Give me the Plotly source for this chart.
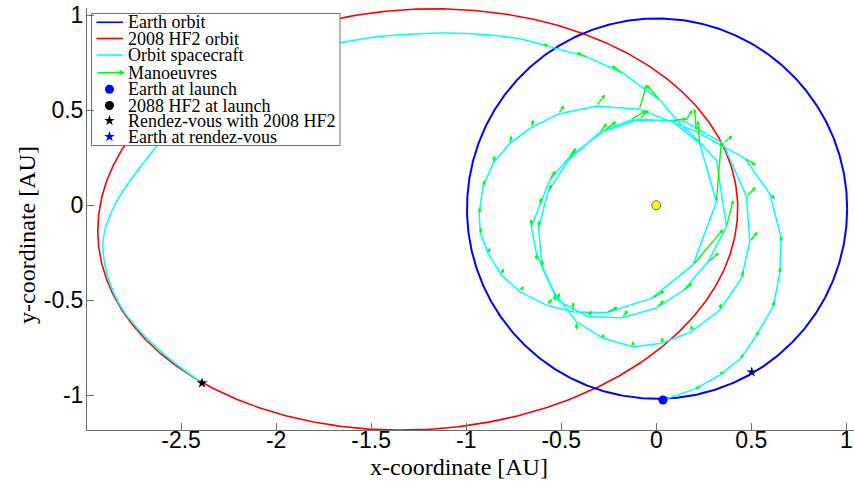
import numpy as np
import plotly.graph_objects as go

# ---- orbit definitions (AU) ----
EARTH_CENTER = (0.004, -0.018)
EARTH_RADIUS = 1.0

# 2008 HF2 orbit projected on the ecliptic: centre, semi-axes, tilt
HF2_CENTER = (-1.255, -0.075)
HF2_SEMI_AXES = (1.685, 1.105)
HF2_TILT_DEG = 3.5

# ---- spacecraft trajectory: thrust phase (polyline nodes) ----
sc_x = [0.035, 0.211, 0.333, 0.447, 0.527, 0.614, 0.650, 0.656, 0.597, 0.465,
        0.211, -0.090, -0.315, -0.515, -0.657, -0.771, -0.859, -0.912, -0.932, -0.926,
        -0.885, -0.815, -0.718, -0.578, -0.438, -0.263, -0.026, 0.193, 0.316, 0.228,
        0.080, -0.135, -0.271, -0.456, -0.561, -0.614, -0.658, -0.631, -0.535, -0.420,
        -0.279, -0.121, 0.028, 0.185, 0.334, 0.448, 0.492, 0.474, 0.351, 0.150,
        -0.090, -0.300, -0.460, -0.570, -0.620, -0.600, -0.520, -0.360, -0.180, 0.000,
        0.140, 0.270, 0.369, 0.316, 0.218, 0.123, 0.018, -0.175, -0.368, -0.561]
sc_y = [-1.024, -0.963, -0.893, -0.802, -0.683, -0.534, -0.358, -0.170, 0.060, 0.246,
        0.387, 0.505, 0.522, 0.480, 0.409, 0.325, 0.220, 0.097, -0.043, -0.148,
        -0.253, -0.367, -0.455, -0.525, -0.560, -0.565, -0.490, -0.314, 0.018, 0.325,
        0.445, 0.448, 0.395, 0.255, 0.132, 0.000, -0.113, -0.253, -0.463, -0.613,
        -0.700, -0.744, -0.726, -0.665, -0.551, -0.384, -0.191, 0.046, 0.326, 0.440,
        0.452, 0.380, 0.240, 0.070, -0.120, -0.330, -0.500, -0.585, -0.592, -0.540,
        -0.450, -0.300, -0.113, 0.237, 0.342, 0.431, 0.553, 0.694, 0.781, 0.834]

# ---- spacecraft trajectory: coast arc to the rendez-vous ----
coast_x = [-0.561, -0.750, -1.000, -1.250, -1.500, -1.750, -2.000, -2.250, -2.500,
           -2.700, -2.850, -2.910, -2.885, -2.800, -2.660, -2.520, -2.390]
coast_y = [0.834, 0.880, 0.903, 0.902, 0.882, 0.835, 0.760, 0.630, 0.450,
           0.220, 0.000, -0.183, -0.380, -0.560, -0.720, -0.840, -0.935]

# ---- manoeuvres: application point and thrust vector (AU) ----
man_x = [0.211, 0.333, 0.447, 0.527, 0.614, 0.650, 0.656, 0.597, 0.465, 0.211,
         -0.090, -0.315, -0.515, -0.657, -0.771, -0.859, -0.912, -0.932, -0.926, -0.885,
         -0.815, -0.718, -0.578, -0.438, -0.263, -0.026, 0.193, 0.316, 0.228,
         0.080, -0.135, -0.271, -0.456, -0.561, -0.614, -0.658, -0.631, -0.535, -0.420,
         -0.279, -0.121, 0.028, 0.185, 0.334, 0.448, 0.492, 0.474,
         0.351, 0.150, -0.090, -0.300, -0.460, -0.570, -0.620, -0.600, -0.520, -0.360,
         -0.180, 0.000, 0.140, 0.270, 0.369,
         0.018, -0.175, -0.368, -0.561]
man_y = [-0.963, -0.893, -0.802, -0.683, -0.534, -0.358, -0.170, 0.060, 0.246, 0.387,
         0.505, 0.522, 0.480, 0.409, 0.325, 0.220, 0.097, -0.043, -0.148, -0.253,
         -0.367, -0.455, -0.525, -0.560, -0.565, -0.490, -0.314, 0.018, 0.325,
         0.445, 0.448, 0.395, 0.255, 0.132, 0.000, -0.113, -0.253, -0.463, -0.613,
         -0.700, -0.744, -0.726, -0.665, -0.551, -0.384, -0.191, 0.046,
         0.326, 0.440, 0.452, 0.380, 0.240, 0.070, -0.120, -0.330, -0.500, -0.585,
         -0.592, -0.540, -0.450, -0.300, -0.113,
         0.553, 0.694, 0.781, 0.834]
man_u = [0.020, 0.020, 0.010, 0.010, 0.005, 0.000, 0.005, 0.027, 0.060, -0.010,
         0.040, 0.045, 0.030, 0.010, 0.010, 0.010, 0.010, 0.005, 0.005, 0.010,
         0.010, 0.020, 0.030, 0.000, 0.060, 0.070, 0.158, 0.026, -0.010,
         0.080, 0.080, 0.060, 0.035, 0.030, 0.010, 0.000, 0.000, 0.000, 0.000,
         0.000, -0.005, 0.005, 0.000, 0.005, 0.010, 0.040, 0.050,
         0.050, 0.040, 0.050, 0.040, 0.030, 0.020, 0.005, 0.000, 0.010, 0.020,
         0.030, 0.040, 0.050, 0.060, 0.035,
         -0.070, -0.060, -0.052, -0.035]
man_v = [0.010, 0.020, 0.020, 0.020, 0.030, 0.030, -0.020, -0.027, -0.035, 0.120,
         0.130, 0.060, 0.045, 0.040, 0.040, 0.040, 0.035, 0.030, 0.030, 0.030,
         0.035, 0.030, 0.030, 0.050, 0.030, 0.040, 0.187, 0.316, 0.120,
         0.010, 0.050, 0.045, 0.047, 0.050, 0.040, 0.040, -0.035, -0.040, -0.040,
         0.025, 0.030, 0.030, 0.035, 0.035, 0.040, 0.050, 0.050,
         0.040, 0.060, 0.050, 0.050, 0.050, 0.040, 0.040, 0.040, 0.040, 0.030,
         0.040, 0.040, 0.040, 0.050, 0.140,
         0.080, 0.040, 0.022, 0.014]

# ---- single events ----
earth_launch = (0.035, -1.024)
hf2_rendezvous = (-2.39, -0.935)
earth_rendezvous = (0.502, -0.878)
sun = (0.0, 0.0)

legend_labels = ["Earth orbit", "2008 HF2 orbit", "Orbit spacecraft", "Manoeuvres",
                 "Earth at launch", "2088 HF2 at launch", "Rendez-vous with 2008 HF2",
                 "Earth at rendez-vous"]

x_ticks = [-2.5, -2, -1.5, -1, -0.5, 0, 0.5, 1]
y_ticks = [-1, -0.5, 0, 0.5, 1]

BLUE, RED, CYAN, GREEN = "#0000ff", "#ff0000", "#00ffff", "#00ff00"
SERIF = "Liberation Serif"
SANS = "Liberation Sans"

# ---- figure geometry (px) ----
W, H = 854, 487
ML, MR, MT, MB = 87, 0, 8, 57
X_RANGE = [-2.995, 1.040]
Y_RANGE = [-1.182, 1.037]


def paper_x(px):
    return (px - ML) / (W - ML - MR)


def paper_y(py):
    return 1 - (py - MT) / (H - MT - MB)


s = np.linspace(0, 2 * np.pi, 721)
earth_x = EARTH_CENTER[0] + EARTH_RADIUS * np.cos(s)
earth_y = EARTH_CENTER[1] + EARTH_RADIUS * np.sin(s)
tilt = np.radians(HF2_TILT_DEG)
a, b = HF2_SEMI_AXES
hf2_x = HF2_CENTER[0] + a * np.cos(s) * np.cos(tilt) - b * np.sin(s) * np.sin(tilt)
hf2_y = HF2_CENTER[1] + a * np.cos(s) * np.sin(tilt) + b * np.sin(s) * np.cos(tilt)

fig = go.Figure()
fig.add_trace(go.Scatter(x=hf2_x, y=hf2_y, mode="lines", line=dict(color=RED, width=1.6),
                         showlegend=False, hoverinfo="skip"))
fig.add_trace(go.Scatter(x=earth_x, y=earth_y, mode="lines", line=dict(color=BLUE, width=2),
                         showlegend=False, hoverinfo="skip"))
fig.add_trace(go.Scatter(x=sc_x, y=sc_y, mode="lines", line=dict(color=CYAN, width=1.5),
                         showlegend=False, hoverinfo="skip"))
fig.add_trace(go.Scatter(x=coast_x, y=coast_y, mode="lines",
                         line=dict(color=CYAN, width=1.5, shape="spline", smoothing=1.0),
                         showlegend=False, hoverinfo="skip"))

annotations = []
for x0, y0, u, v in zip(man_x, man_y, man_u, man_v):
    annotations.append(dict(x=x0 + u, y=y0 + v, ax=x0, ay=y0, xref="x", yref="y",
                            axref="x", ayref="y", showarrow=True, arrowhead=2,
                            arrowsize=0.55, arrowwidth=1.4, arrowcolor=GREEN,
                            standoff=0, startstandoff=0, text=""))

fig.add_trace(go.Scatter(x=[earth_launch[0]], y=[earth_launch[1]], mode="markers",
                         marker=dict(color=BLUE, size=9), showlegend=False))
fig.add_trace(go.Scatter(x=[hf2_rendezvous[0]], y=[hf2_rendezvous[1]], mode="markers",
                         marker=dict(color="black", size=8, symbol="star"), showlegend=False))
fig.add_trace(go.Scatter(x=[earth_rendezvous[0]], y=[earth_rendezvous[1]], mode="markers",
                         marker=dict(color="#000080", size=8, symbol="star"), showlegend=False))
fig.add_trace(go.Scatter(x=[sun[0]], y=[sun[1]], mode="markers",
                         marker=dict(color="#ffff00", size=9, line=dict(color="#666666", width=1)),
                         showlegend=False))

# ---- legend drawn on an overlay axis measured in pixels ----
LEG_BOX = (91.5, 340, 13.5, 145.5)
leg_rows = [22.3, 38.5, 55.0, 72.7, 89.3, 105.5, 120.7, 136.7]
LINE_X0, LINE_X1, MARK_X, TEXT_X = 96.5, 123.0, 109.5, 125.5

fig.add_trace(go.Scatter(x=[LEG_BOX[0], LEG_BOX[1], LEG_BOX[1], LEG_BOX[0], LEG_BOX[0]],
                         y=[LEG_BOX[2], LEG_BOX[2], LEG_BOX[3], LEG_BOX[3], LEG_BOX[2]],
                         xaxis="x2", yaxis="y2", mode="lines", fill="toself",
                         fillcolor="white", line=dict(color="#707070", width=1),
                         showlegend=False, hoverinfo="skip"))
for row, col in zip(leg_rows[:3], [BLUE, RED, CYAN]):
    fig.add_trace(go.Scatter(x=[LINE_X0, LINE_X1], y=[row, row], xaxis="x2", yaxis="y2",
                             mode="lines", line=dict(color=col, width=1.6),
                             showlegend=False, hoverinfo="skip"))
annotations.append(dict(x=LINE_X1 + 2, y=leg_rows[3], ax=LINE_X0, ay=leg_rows[3],
                        xref="x2", yref="y2", axref="x2", ayref="y2", showarrow=True,
                        arrowhead=2, arrowsize=0.7, arrowwidth=1.5, arrowcolor=GREEN,
                        standoff=0, startstandoff=0, text=""))
leg_marks = [(BLUE, "circle", 9), ("black", "circle", 9), ("black", "star", 8), (BLUE, "star", 8)]
for row, (col, sym, size) in zip(leg_rows[4:], leg_marks):
    fig.add_trace(go.Scatter(x=[MARK_X], y=[row], xaxis="x2", yaxis="y2", mode="markers",
                             marker=dict(color=col, symbol=sym, size=size),
                             showlegend=False, hoverinfo="skip"))
for row, label in zip(leg_rows, legend_labels):
    annotations.append(dict(x=TEXT_X, y=row, xref="x2", yref="y2", text=label,
                            showarrow=False, xanchor="left", yanchor="middle",
                            font=dict(family=SERIF, size=18, color="black")))

# ---- axis titles ----
annotations.append(dict(x=paper_x(459), y=paper_y(467), xref="paper", yref="paper",
                        xanchor="center", yanchor="middle", text="x-coordinate [AU]",
                        showarrow=False, font=dict(family=SERIF, size=24, color="black")))
annotations.append(dict(x=paper_x(27), y=paper_y(235), xref="paper", yref="paper",
                        xanchor="center", yanchor="middle", text="y-coordinate [AU]",
                        showarrow=False, textangle=-90,
                        font=dict(family=SERIF, size=24, color="black")))

axis_common = dict(showline=True, linecolor="#6e6e6e", linewidth=1, ticks="inside",
                   ticklen=7, tickcolor="#6e6e6e", showgrid=False, zeroline=False,
                   tickfont=dict(family=SANS, size=23, color="black"), fixedrange=True)

fig.update_layout(
    width=W, height=H, margin=dict(l=ML, r=MR, t=MT, b=MB),
    paper_bgcolor="white", plot_bgcolor="white", showlegend=False,
    xaxis=dict(range=X_RANGE, tickvals=x_ticks, ticktext=[f"{v:g}" for v in x_ticks],
               ticklabelstandoff=-11, **axis_common),
    yaxis=dict(range=Y_RANGE, tickvals=y_ticks, ticktext=[f"{v:g}" for v in y_ticks],
               ticklabelstandoff=-2, **axis_common),
    xaxis2=dict(range=[ML, W - MR], overlaying="x", visible=False, fixedrange=True),
    yaxis2=dict(range=[H - MB, MT], overlaying="y", visible=False, fixedrange=True),
    annotations=annotations,
)

fig.write_html("out.html")
